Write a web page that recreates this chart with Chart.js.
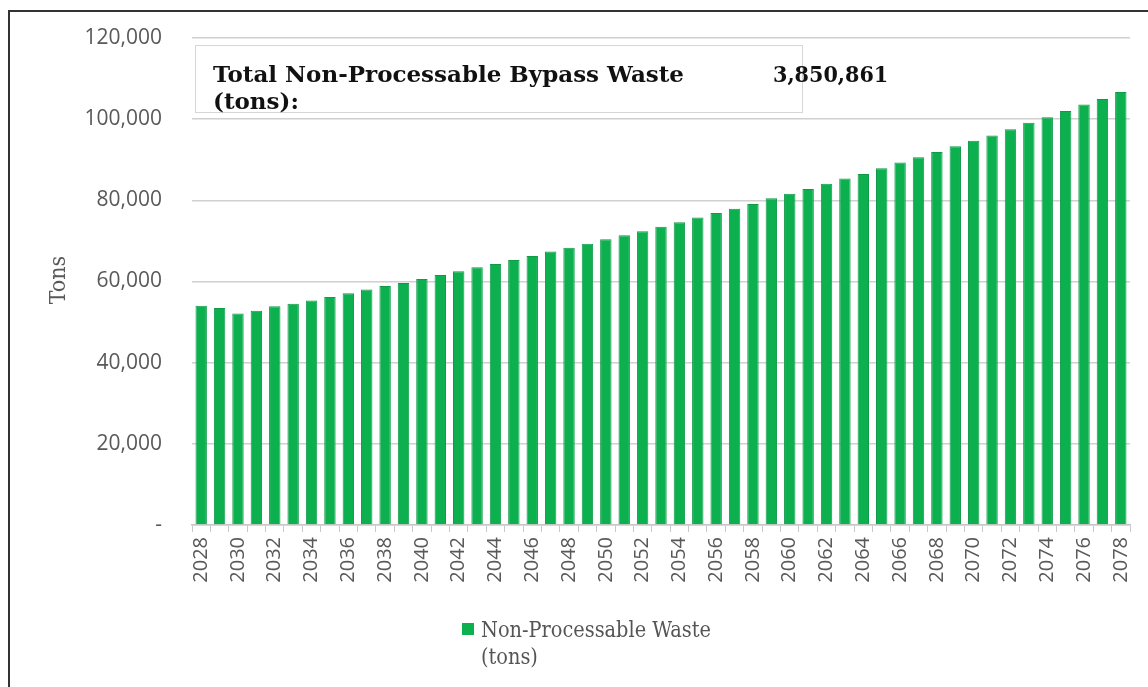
<!DOCTYPE html>
<html>
<head>
<meta charset="utf-8">
<script src="https://cdn.jsdelivr.net/npm/chart.js@4"></script>
<style>
  html, body { margin: 0; padding: 0; background: #fff; width: 1148px; height: 687px; overflow: hidden; }
  #frame { position: absolute; left: 8px; top: 10px; width: 1160px; height: 700px; border: 2px solid #333; box-sizing: border-box; }
  #wrap { position: absolute; left: 0; top: 0; width: 1148px; height: 687px; }
</style>
</head>
<body>
<div id="frame"></div>
<div id="wrap"><canvas id="c" width="1148" height="687"></canvas></div>
<script>
const years = [];
for (let y = 2028; y <= 2078; y++) years.push(String(y));

const wasteTons = [
  54000, 53500, 52100, 52800, 53900, 54500, 55300, 56200, 57100, 58000,
  58900, 59600, 60600, 61600, 62500, 63500, 64300, 65300, 66300, 67400,
  68300, 69300, 70400, 71400, 72400, 73500, 74600, 75800, 76900, 77900,
  79100, 80500, 81600, 82800, 84100, 85400, 86500, 87900, 89300, 90600,
  91900, 93300, 94700, 96000, 97500, 99100, 100500, 102000, 103600, 105000,
  106700
];

const seriesLabel = ['Non-Processable Waste', '(tons)'];
const boxLabel = ['Total Non-Processable Bypass Waste', '(tons):'];
const boxValue = '3,850,861';
const yTitle = 'Tons';

const barColor = '#0cb04f';
const barBorder = '#109a48';

const overlayPlugin = {
  id: 'overlay',
  afterDatasetsDraw(chart) {
    const ctx = chart.ctx;
    ctx.save();
    // y axis title
    ctx.save();
    ctx.translate(65, 280);
    ctx.rotate(-Math.PI / 2);
    ctx.fillStyle = '#595959';
    ctx.font = '23px "DejaVu Serif Condensed", "DejaVu Serif", serif';
    ctx.textAlign = 'center';
    ctx.textBaseline = 'alphabetic';
    ctx.fillText(yTitle, 0, 0);
    ctx.restore();
    // total box
    ctx.fillStyle = 'rgba(255,255,255,0.92)';
    ctx.fillRect(195, 45, 607, 67);
    ctx.strokeStyle = '#d6d6d6';
    ctx.lineWidth = 1;
    ctx.strokeRect(195.5, 45.5, 607, 67);
    ctx.fillStyle = '#111';
    ctx.textBaseline = 'alphabetic';
    ctx.textAlign = 'left';
    ctx.font = 'bold 23px "DejaVu Serif", serif';
    ctx.fillText(boxLabel[0], 213, 82);
    ctx.fillText(boxLabel[1], 213, 109);
    ctx.font = 'bold 23px "DejaVu Serif Condensed", "DejaVu Serif", serif';
    ctx.fillText(boxValue, 773, 82);
    // legend
    ctx.fillStyle = barColor;
    ctx.fillRect(462, 623, 12, 12);
    ctx.fillStyle = '#555';
    ctx.font = '21.5px "DejaVu Serif Condensed", "DejaVu Serif", serif';
    ctx.fillText(seriesLabel[0], 481, 637);
    ctx.fillText(seriesLabel[1], 481, 664);
    ctx.restore();
  }
};

new Chart(document.getElementById('c'), {
  type: 'bar',
  data: {
    labels: years,
    datasets: [{
      label: seriesLabel.join(' '),
      data: wasteTons,
      backgroundColor: barColor,
      borderColor: barBorder,
      borderWidth: 1,
      categoryPercentage: 1.0,
      barPercentage: 0.62
    }]
  },
  options: {
    responsive: false,
    animation: false,
    events: [],
    layout: { padding: { top: 38, right: 18, left: 42, bottom: 0 } },
    plugins: { legend: { display: false }, tooltip: { enabled: false } },
    scales: {
      x: {
        offset: true,
        grid: { display: true, drawOnChartArea: false, drawTicks: true, tickLength: 7, offset: true, color: '#c8c8c8' },
        border: { display: true, color: '#c8c8c8', width: 1.5 },
        ticks: {
          autoSkip: false, minRotation: 90, maxRotation: 90, padding: 5,
          color: '#595959',
          font: { family: '"Open Sans", "DejaVu Sans", sans-serif', size: 20 },
          callback: function (v, i) { return i % 2 === 0 ? this.getLabelForValue(v) : ''; }
        },
        afterFit(scale) { scale.height = 687 - 525; scale.paddingLeft = 0; scale.paddingRight = 0; }
      },
      y: {
        min: 0, max: 120000,
        grid: { color: '#d0d0d0', drawTicks: false, lineWidth: 1.5 },
        border: { display: false },
        ticks: {
          stepSize: 20000, padding: 30, color: '#595959',
          font: { family: '"Open Sans", "DejaVu Sans", sans-serif', size: 21 },
          callback: (v) => v === 0 ? '-' : v.toLocaleString('en-US')
        },
        title: { display: false },
        afterFit(scale) { scale.width = 192 - 42; scale.paddingTop = 0; scale.paddingBottom = 0; }
      }
    }
  },
  plugins: [overlayPlugin]
});
</script>
</body>
</html>
